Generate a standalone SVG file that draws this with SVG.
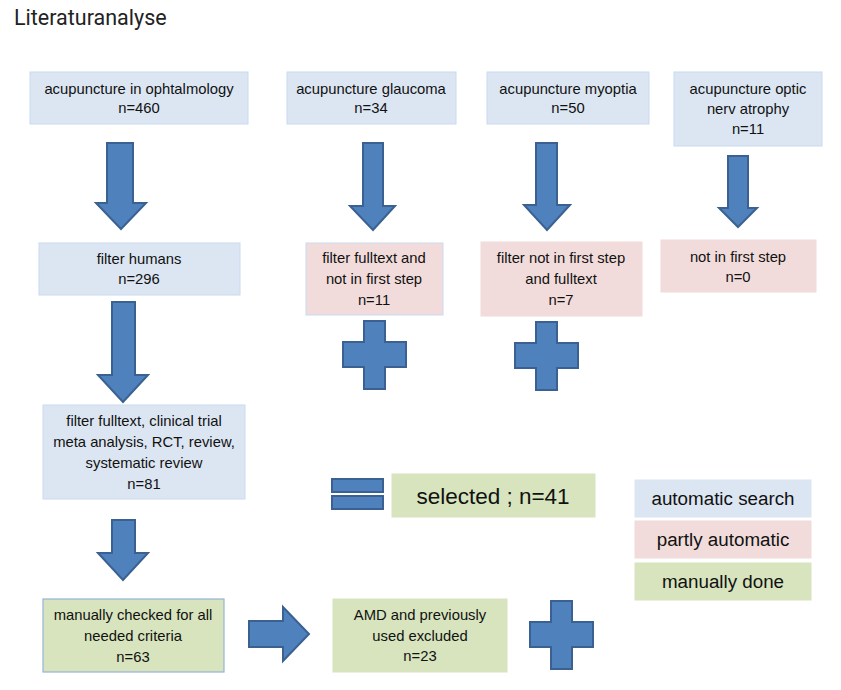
<svg xmlns="http://www.w3.org/2000/svg" width="841" height="690" viewBox="0 0 841 690">
<defs>
<style>
text{font-family:"Liberation Sans",Arial,sans-serif;font-size:14.8px;fill:#111;text-anchor:middle}
.title{font-family:Roboto,"Liberation Sans",sans-serif;font-size:21.5px;text-anchor:start;fill:#222}
.blue{fill:#dce6f2;stroke:#c9daf0;stroke-width:1}
.pink{fill:#f2dcdb;stroke:#f2dcdb;stroke-width:1}
.pinkb{fill:#f2dcdb;stroke:#c9daf0;stroke-width:1}
.green{fill:#d7e4bd;stroke:#d7e4bd;stroke-width:1}
.greenb{fill:#d7e4bd;stroke:#95b3d7;stroke-width:1.2}
.arr{fill:#4f81bd;stroke:#3a6191;stroke-width:2;stroke-linejoin:miter}
.big{font-size:22.5px}
.leg{font-size:18.8px}
</style>
<polygon id="plus" points="364,321 385,321 385,342 406,342 406,367 385,367 385,389 364,389 364,367 343,367 343,342 364,342"/>
</defs>
<rect width="841" height="690" fill="#ffffff"/>
<text class="title" x="14" y="25">Literaturanalyse</text>

<g id="connectors">
<polygon class="arr" points="107,143 133,143 133,203 146,203 121,229 96,203 107,203"/>
<polygon class="arr" points="363,143 383,143 383,206 395,206 373,230 350,206 363,206"/>
<polygon class="arr" points="536,143 557,143 557,205 570,205 547,230 524,205 536,205"/>
<polygon class="arr" points="728,156 748,156 748,208 757,208 738,227 719,208 728,208"/>
<polygon class="arr" points="112,302 135,302 135,375 148,375 123,402 98,375 112,375"/>
<polygon class="arr" points="112,520 135,520 135,553 148,553 123,580 98,553 112,553"/>
<polygon class="arr" points="249,621 283,621 283,607 309,634 283,661 283,647 249,647"/>
<use href="#plus" class="arr"/>
<use href="#plus" class="arr" transform="translate(172,1)"/>
<use href="#plus" class="arr" transform="translate(187,280)"/>
<rect class="arr" x="332" y="479" width="51" height="13"/>
<rect class="arr" x="332" y="496" width="51" height="13"/>
</g>

<g id="n_ophtal">
<rect class="blue" x="30" y="72" width="218" height="52"/>
<text x="139" y="94">acupuncture in ophtalmology</text>
<text x="139" y="113">n=460</text>
</g>
<g id="n_glaucoma">
<rect class="blue" x="287" y="72" width="169" height="52"/>
<text x="371" y="94">acupuncture glaucoma</text>
<text x="371" y="113">n=34</text>
</g>
<g id="n_myoptia">
<rect class="blue" x="487" y="72" width="162" height="52"/>
<text x="568" y="94">acupuncture myoptia</text>
<text x="568" y="113">n=50</text>
</g>
<g id="n_optic">
<rect class="blue" x="674" y="72" width="148" height="74"/>
<text x="748" y="94">acupuncture optic</text>
<text x="748" y="114">nerv atrophy</text>
<text x="748" y="134">n=11</text>
</g>

<g id="n_humans">
<rect class="blue" x="39" y="243" width="201" height="52"/>
<text x="139" y="264">filter humans</text>
<text x="139" y="284">n=296</text>
</g>
<g id="n_glaucoma_filter">
<rect class="pinkb" x="306" y="243" width="137" height="72"/>
<text x="374" y="263">filter fulltext and</text>
<text x="374" y="284">not in first step</text>
<text x="374" y="305">n=11</text>
</g>
<g id="n_myoptia_filter">
<rect class="pink" x="481" y="242" width="161" height="74"/>
<text x="561" y="263">filter not in first step</text>
<text x="561" y="284">and fulltext</text>
<text x="561" y="305">n=7</text>
</g>
<g id="n_optic_filter">
<rect class="pink" x="661" y="240" width="155" height="52"/>
<text x="738" y="262">not in first step</text>
<text x="738" y="282">n=0</text>
</g>

<g id="n_fulltext">
<rect class="blue" x="43" y="405" width="202" height="94"/>
<text x="144" y="426">filter fulltext, clinical trial</text>
<text x="144" y="447">meta analysis, RCT, review,</text>
<text x="144" y="468">systematic review</text>
<text x="144" y="489">n=81</text>
</g>
<g id="n_manual">
<rect class="greenb" x="43" y="599" width="181" height="73"/>
<text x="133" y="620">manually checked for all</text>
<text x="133" y="641">needed criteria</text>
<text x="133" y="662">n=63</text>
</g>
<g id="n_amd">
<rect class="green" x="333" y="599" width="174" height="73"/>
<text x="420" y="620">AMD and previously</text>
<text x="420" y="641">used excluded</text>
<text x="420" y="661">n=23</text>
</g>
<g id="n_selected">
<rect class="green" x="392" y="474" width="203" height="43"/>
<text class="big" x="493" y="504">selected ; n=41</text>
</g>

<g id="legend">
<rect class="blue" x="635" y="480" width="176" height="37" style="stroke:#dce6f2"/>
<text class="leg" x="723" y="505">automatic search</text>
<rect class="pink" x="635" y="521" width="176" height="37"/>
<text class="leg" x="723" y="546">partly automatic</text>
<rect class="green" x="635" y="563" width="176" height="37"/>
<text class="leg" x="723" y="588">manually done</text>
</g>
</svg>
